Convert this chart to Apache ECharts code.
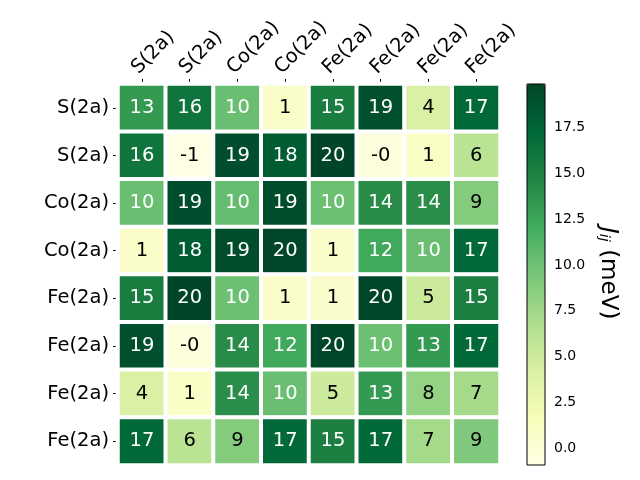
<!DOCTYPE html>
<html><head><meta charset="utf-8">
<script src="https://cdn.jsdelivr.net/npm/echarts@6/dist/echarts.min.js"></script>
<style>html,body{margin:0;padding:0;background:#fff}#c{width:640px;height:480px}</style>
</head><body><div id="c"></div>
<script>
const xLabels = ['S(2a)','S(2a)','Co(2a)','Co(2a)','Fe(2a)','Fe(2a)','Fe(2a)','Fe(2a)'];
const yLabels = ['S(2a)','S(2a)','Co(2a)','Co(2a)','Fe(2a)','Fe(2a)','Fe(2a)','Fe(2a)'];
const values = [
  [13.2, 16.1, 10.2, 0.8, 15.3, 19.1, 4.2, 17.2],
  [16.1, -0.91, 19.2, 18.1, 19.86, -0.3, 0.9, 6.1],
  [10.2, 19.2, 10.4, 19.3, 10.1, 14.2, 14.1, 8.9],
  [0.8, 18.1, 19.3, 19.7, 0.7, 12.2, 10.2, 17.1],
  [15.3, 19.86, 10.1, 0.7, 0.6, 19.8, 5.1, 15.2],
  [19.1, -0.3, 14.2, 12.2, 19.8, 10.1, 13.2, 17.1],
  [4.2, 0.9, 14.1, 10.2, 5.1, 13.2, 8.1, 7.2],
  [17.2, 6.1, 8.9, 17.1, 15.2, 17.1, 7.2, 9.1]
];
const cbTicks = [0, 2.5, 5, 7.5, 10, 12.5, 15, 17.5];
const vMin = -0.91, vMax = 19.86;
const YlGn = ['#ffffe5','#f7fcb9','#d9f0a3','#addd8e','#78c679','#41ab5d','#238443','#006837','#004529'];

const thr = (vMin + vMax) / 2;
const data = [];
values.forEach((row, r) => row.forEach((v, c) => {
  data.push({ value: [c, r, v], label: { color: v > thr ? '#fff' : '#000' } });
}));

const chart = echarts.init(document.getElementById('c'), null, {renderer: 'canvas'});
const font = 'DejaVu Sans';
chart.setOption({
  animation: false,
  textStyle: { fontFamily: font },
  grid: [
    { left: 118, top: 84, width: 382, height: 381 },
    { left: 527, top: 84, width: 18, height: 381, show: true, borderColor: '#000', borderWidth: 1, backgroundColor: 'transparent', z: 5 }
  ],
  xAxis: [
    { type: 'category', data: xLabels, position: 'top', gridIndex: 0,
      axisLine: { show: false }, splitLine: { show: false },
      axisTick: { show: true, alignWithLabel: true, length: 5, lineStyle: { color: '#000' } },
      axisLabel: { rotate: -45, fontSize: 19.5, color: '#000', fontFamily: font, margin: 6, interval: 0, verticalAlign: 'bottom' } },
    { type: 'value', gridIndex: 1, show: false, min: 0, max: 1 }
  ],
  yAxis: [
    { type: 'category', data: yLabels, inverse: true, gridIndex: 0,
      axisLine: { show: false }, splitLine: { show: false },
      axisTick: { show: true, alignWithLabel: true, length: 5, lineStyle: { color: '#000' } },
      axisLabel: { fontSize: 19.5, color: '#000', fontFamily: font, margin: 9, interval: 0 } },
    { type: 'value', gridIndex: 1, position: 'right', min: vMin, max: vMax,
      axisLine: { show: false }, splitLine: { show: false },
      axisTick: { show: true, length: 4, lineStyle: { color: '#000' }, customValues: cbTicks },
      axisLabel: { fontSize: 14, color: '#000', fontFamily: font, margin: 9, customValues: cbTicks,
        formatter: v => v.toFixed(1) } }
  ],
  visualMap: {
    type: 'continuous', min: vMin, max: vMax, calculable: false, seriesIndex: 0,
    orient: 'vertical', left: 527, top: 84, itemWidth: 18, itemHeight: 381,
    padding: 0, text: ['', ''], showLabel: false,
    inRange: { color: YlGn }
  },
  series: [{
    type: 'heatmap', xAxisIndex: 0, yAxisIndex: 0, data: data,
    itemStyle: { borderColor: '#fff', borderWidth: 4 },
    label: { show: true, fontSize: 19.5, fontFamily: font, formatter: p => p.value[2].toFixed(0) },
    emphasis: { disabled: true }
  }],
  graphic: [{
    type: 'text', left: 596, top: 227, rotation: -Math.PI / 2,
    style: {
      text: '{j|J}{s|ij} (meV)',
      rich: {
        j: { fontSize: 23, fontStyle: 'italic', fontFamily: font, fill: '#000' },
        s: { fontSize: 14.5, fontStyle: 'italic', fontFamily: font, fill: '#000', verticalAlign: 'bottom', padding: [9, 0, 0, 0] }
      },
      fontSize: 23, fontFamily: font, fill: '#000'
    }
  }]
});
</script></body></html>
